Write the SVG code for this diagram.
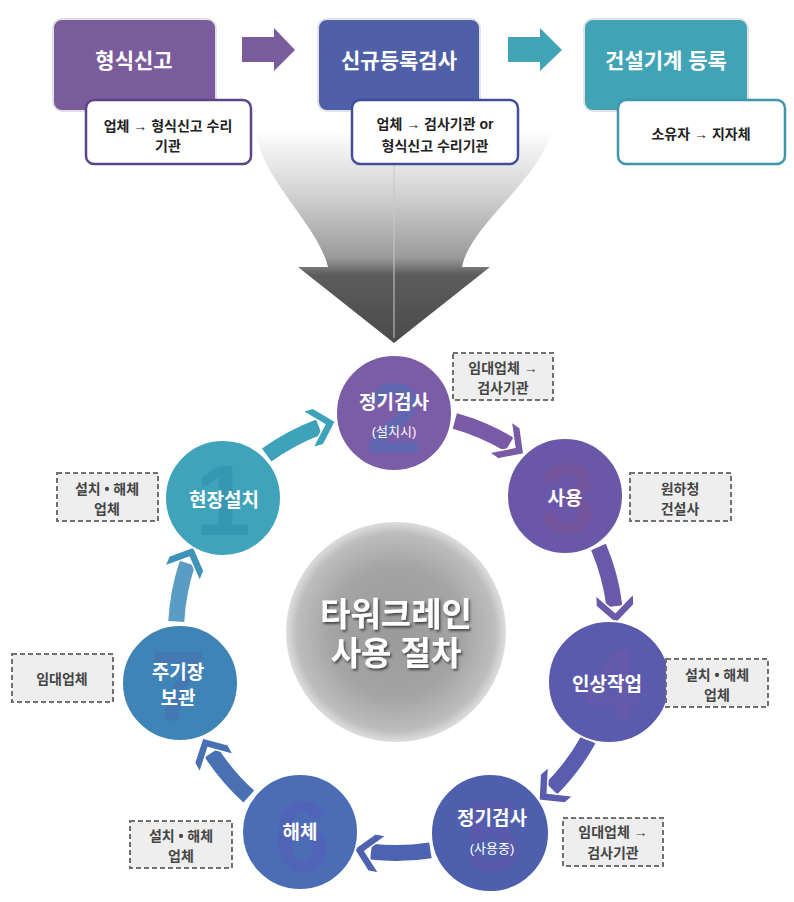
<svg xmlns="http://www.w3.org/2000/svg" width="794" height="902" viewBox="0 0 794 902">
<defs>
<style>
.ko{font-family:"Liberation Sans","Noto Sans CJK KR",sans-serif;font-weight:bold}
.ttl{font-size:21px;fill:#fff;text-anchor:middle;dominant-baseline:central}
.sub{font-size:14px;fill:#222;text-anchor:middle;dominant-baseline:central}
.sbox{fill:#fff;stroke-width:2.5}
.nt{font-size:19px;fill:#fff;text-anchor:middle;dominant-baseline:central}
.ns{font-size:13px;fill:#fff;text-anchor:middle;dominant-baseline:central;font-weight:normal}
.num{font-family:"Liberation Sans",sans-serif;font-weight:bold;font-size:100px;text-anchor:middle;dominant-baseline:central}
.dash{fill:#eeeeef;stroke:#707070;stroke-width:2;stroke-dasharray:5 3}
.dt{font-size:14px;fill:#454545;text-anchor:middle;dominant-baseline:central}
.nodec{stroke:#fff;stroke-width:2}
.band{fill:none;stroke-width:16}
.chev{stroke:#fff;stroke-width:1.5}
</style>
<linearGradient id="funnel" x1="0" y1="130" x2="0" y2="343" gradientUnits="userSpaceOnUse">
<stop offset="0" stop-color="#ffffff"/>
<stop offset="0.3" stop-color="#d2d2d2"/>
<stop offset="0.6" stop-color="#9a9a9a"/>
<stop offset="0.68" stop-color="#5c5c5c"/>
<stop offset="1" stop-color="#4a4a4a"/>
</linearGradient>
<radialGradient id="hub" cx="0.5" cy="0.5" r="0.5">
<stop offset="0" stop-color="#9a9a9a"/>
<stop offset="0.6" stop-color="#a4a4a4"/>
<stop offset="0.9" stop-color="#bdbdbd"/>
<stop offset="1" stop-color="#dedede"/>
</radialGradient>
<filter id="tsh" x="-20%" y="-20%" width="140%" height="140%">
<feDropShadow dx="1.5" dy="2" stdDeviation="1.2" flood-color="#333" flood-opacity="0.8"/>
</filter>
<polygon id="chv" points="0,0 -18,-19 -29,-19 -11,0 -29,19 -18,19"/>
</defs>

<rect width="794" height="902" fill="#ffffff"/>

<g id="funnel-arrow">
<path d="M255,130 L552,130 C540,180 470,225 462,267 L490,267 L394,343 L298,267 L328,267 C318,225 262,180 255,130 Z" fill="url(#funnel)"/>
<line x1="394" y1="165" x2="394" y2="338" stroke="#c8c8c8" stroke-width="1"/>
</g>

<g id="step-type-report">
<rect x="53" y="19" width="163" height="92" rx="9" fill="#7a5c9c" stroke="#e2e2e2" stroke-width="2"/>
<text class="ko ttl" x="134" y="60">형식신고</text>
<rect class="sbox" x="86" y="100" width="165" height="64" rx="8" stroke="#5d4585"/>
<text class="ko sub" x="168" y="126">업체 → 형식신고 수리</text>
<text class="ko sub" x="168" y="146">기관</text>
</g>
<g id="step-new-inspection">
<rect x="318" y="19" width="162" height="92" rx="9" fill="#5060a8" stroke="#e2e2e2" stroke-width="2"/>
<text class="ko ttl" x="399" y="60">신규등록검사</text>
<rect class="sbox" x="352" y="100" width="166" height="64" rx="8" stroke="#404f98"/>
<text class="ko sub" x="435" y="124">업체 → 검사기관 or</text>
<text class="ko sub" x="435" y="146">형식신고 수리기관</text>
</g>
<g id="step-registration">
<rect x="584" y="19" width="164" height="92" rx="9" fill="#40a3b6" stroke="#e2e2e2" stroke-width="2"/>
<text class="ko ttl" x="666" y="60">건설기계 등록</text>
<rect class="sbox" x="618" y="100" width="167" height="64" rx="8" stroke="#3b97a9"/>
<text class="ko sub" x="701" y="134">소유자 → 지자체</text>
</g>

<g id="top-connectors">
<polygon points="242,37 274,37 274,28 295,50 274,71 274,62 242,62" fill="#7a5c9c"/>
<polygon points="508,37 540,37 540,28 562,50 540,71 540,62 508,62" fill="#40a3b6"/>
</g>

<g id="connectors">
<path class="band" d="M266.7,455 A220,220 0 0 1 319,426.9" stroke="#3da2ba"/>
<use href="#chv" transform="translate(335.4,421.5) rotate(-16)" fill="#3da2ba" class="chev"/>
<path class="band" d="M454.8,421 A220,220 0 0 1 509.3,444.4" stroke="#7a5aa6"/>
<use href="#chv" transform="translate(523.8,453.9) rotate(35.5)" fill="#7a5aa6" class="chev"/>
<path class="band" d="M598.5,547 A220,220 0 0 1 614.4,606.2" stroke="#6a58a8"/>
<use href="#chv" transform="translate(615.8,623.4) rotate(87.5)" fill="#6a58a8" class="chev"/>
<path class="band" d="M588.4,739.7 A220,220 0 0 1 551.6,788.6" stroke="#5a5cb0"/>
<use href="#chv" transform="translate(538.9,800.3) rotate(139.5)" fill="#5a5cb0" class="chev"/>
<path class="band" d="M430.4,850.3 A220,220 0 0 1 371.1,851.6" stroke="#4d62b0"/>
<use href="#chv" transform="translate(354,849) rotate(191)" fill="#4d62b0" class="chev"/>
<path class="band" d="M248.8,796.5 A220,220 0 0 1 211.5,752.8" stroke="#4a70b4"/>
<use href="#chv" transform="translate(202.7,738) rotate(241.5)" fill="#4a70b4" class="chev"/>
<path class="band" d="M176.3,621.5 A220,220 0 0 1 187.4,563.2" stroke="#5a9cc4"/>
<use href="#chv" transform="translate(193.5,547) rotate(293)" fill="#3f92ba" class="chev"/>
</g>

<g id="hub">
<circle cx="396" cy="632" r="110" fill="url(#hub)"/>
<g filter="url(#tsh)">
<text class="ko" x="396" y="614" font-size="33" fill="#fff" text-anchor="middle" dominant-baseline="central">타워크레인</text>
<text class="ko" x="396" y="653" font-size="33" fill="#fff" text-anchor="middle" dominant-baseline="central">사용 절차</text>
</g>
</g>

<g id="node1">
<circle class="nodec" cx="223" cy="498" r="58" fill="#3ea3bb"/>
<text class="num" x="223" y="500" fill="#3390ae" opacity="0.6">1</text>
<text class="ko nt" x="224" y="500">현장설치</text>
</g>
<g id="node2">
<circle class="nodec" cx="394" cy="413" r="58" fill="#7b5da7"/>
<text class="num" x="394" y="418" fill="#4f6db5" opacity="0.6">2</text>
<text class="ko nt" x="394" y="402">정기검사</text>
<text class="ko ns" x="394" y="431">(설치시)</text>
</g>
<g id="node3">
<circle class="nodec" cx="565" cy="496" r="58" fill="#6a57a8"/>
<text class="num" x="568" y="498" fill="#85508f" opacity="0.4">3</text>
<text class="ko nt" x="565" y="498">사용</text>
</g>
<g id="node4">
<circle class="nodec" cx="609" cy="682" r="61" fill="#5a5aae"/>
<text class="num" x="612" y="684" fill="#7458a8" opacity="0.45">4</text>
<text class="ko nt" x="607" y="684">인상작업</text>
</g>
<g id="node5">
<circle class="nodec" cx="490" cy="833" r="59" fill="#4e5fae"/>
<text class="num" x="492" y="836" fill="#6a55b0" opacity="0.4">5</text>
<text class="ko nt" x="492" y="818">정기검사</text>
<text class="ko ns" x="492" y="848">(사용중)</text>
</g>
<g id="node6">
<circle class="nodec" cx="300" cy="832" r="58" fill="#4a6db5"/>
<text class="num" x="302" y="836" fill="#5a58b8" opacity="0.45">6</text>
<text class="ko nt" x="300" y="832">해체</text>
</g>
<g id="node7">
<circle class="nodec" cx="180" cy="683" r="58" fill="#3f84b6"/>
<text class="num" x="178" y="686" fill="#4a6ab0" opacity="0.45">7</text>
<text class="ko nt" x="178" y="672">주기장</text>
<text class="ko nt" x="178" y="698">보관</text>
</g>

<g id="label-n2">
<rect class="dash" x="453" y="353" width="100" height="47"/>
<text class="ko dt" x="503" y="368">임대업체 →</text>
<text class="ko dt" x="503" y="388">검사기관</text>
</g>
<g id="label-n3">
<rect class="dash" x="630" y="473" width="101" height="48"/>
<text class="ko dt" x="680" y="489">원하청</text>
<text class="ko dt" x="680" y="509">건설사</text>
</g>
<g id="label-n1">
<rect class="dash" x="57" y="473" width="101" height="48"/>
<text class="ko dt" x="107" y="489">설치 • 해체</text>
<text class="ko dt" x="107" y="509">업체</text>
</g>
<g id="label-n4">
<rect class="dash" x="666" y="659" width="102" height="48"/>
<text class="ko dt" x="717" y="675">설치 • 해체</text>
<text class="ko dt" x="717" y="695">업체</text>
</g>
<g id="label-n7">
<rect class="dash" x="12" y="654" width="101" height="48"/>
<text class="ko dt" x="62" y="679">임대업체</text>
</g>
<g id="label-n5">
<rect class="dash" x="563" y="818" width="100" height="48"/>
<text class="ko dt" x="613" y="832">임대업체 →</text>
<text class="ko dt" x="613" y="853">검사기관</text>
</g>
<g id="label-n6">
<rect class="dash" x="130" y="821" width="102" height="47"/>
<text class="ko dt" x="181" y="836">설치 • 해체</text>
<text class="ko dt" x="181" y="856">업체</text>
</g>
</svg>
